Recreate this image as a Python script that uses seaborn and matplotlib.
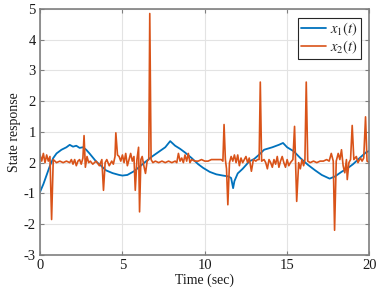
import numpy as np
import pandas as pd
import matplotlib
matplotlib.use("Agg")
import matplotlib.pyplot as plt
import seaborn as sns

# blue state x1(t)
t1 = [0.0, 0.2, 0.4, 0.6, 0.8, 1.0, 1.3, 1.6, 1.8, 2.0, 2.2, 2.4, 2.6, 2.8, 3.0, 3.2, 3.4,
      3.7, 4.0, 4.4, 4.8, 5.0, 5.3, 5.7, 6.0, 6.4, 6.8, 7.2, 7.6, 7.9, 8.2, 8.5, 8.8, 9.2,
      9.6, 9.9, 10.3, 10.7, 11.1, 11.45, 11.6, 11.72, 11.8, 12.0, 12.3, 12.7, 13.0, 13.3,
      13.6, 14.1, 14.5, 14.75, 15.0, 15.4, 15.8, 16.26, 16.7, 17.1, 17.58, 17.9, 18.3,
      18.7, 19.0, 19.4, 19.8, 20.0]
x1 = [-0.95, -0.7, -0.4, -0.1, 0.15, 0.3, 0.42, 0.5, 0.58, 0.52, 0.55, 0.48, 0.5, 0.42,
      0.3, 0.17, 0.04, -0.1, -0.25, -0.34, -0.4, -0.42, -0.4, -0.28, -0.15, 0.03, 0.2,
      0.35, 0.5, 0.7, 0.55, 0.45, 0.33, 0.15, -0.05, -0.17, -0.3, -0.38, -0.42, -0.45,
      -0.5, -0.83, -0.6, -0.35, -0.2, 0.04, 0.12, 0.26, 0.42, 0.5, 0.58, 0.64, 0.5, 0.37,
      0.15, -0.07, -0.25, -0.4, -0.52, -0.45, -0.3, -0.17, -0.05, 0.15, 0.34, 0.38]

# red state x2(t)
t2 = [0.0, 0.1, 0.2, 0.3, 0.4, 0.5, 0.6, 0.7, 0.8, 0.9, 1.0, 1.2, 1.4, 1.6, 1.8, 1.9, 2.0,
      2.1, 2.2, 2.3, 2.4, 2.5, 2.6, 2.67, 2.75, 2.85, 2.95, 3.05, 3.2, 3.4, 3.6, 3.75, 3.85,
      3.95, 4.05, 4.2, 4.35, 4.45, 4.55, 4.6, 4.7, 4.8, 4.9, 5.0, 5.1, 5.2, 5.3, 5.4, 5.5,
      5.6, 5.7, 5.78, 5.88, 5.98, 6.04, 6.12, 6.2, 6.3, 6.4, 6.5, 6.6, 6.66, 6.74, 6.85,
      7.0, 7.2, 7.4, 7.6, 7.8, 8.0, 8.2, 8.3, 8.4, 8.5, 8.6, 8.7, 8.8, 8.9, 9.0, 9.1, 9.2,
      9.4, 9.6, 9.8, 10.0, 10.2, 10.4, 10.6, 10.8, 11.0, 11.1, 11.17, 11.25, 11.32, 11.4,
      11.5, 11.6, 11.7, 11.8, 11.9, 12.0, 12.1, 12.2, 12.3, 12.4, 12.5, 12.6, 12.7, 12.83,
      12.95, 13.1, 13.2, 13.3, 13.37, 13.45, 13.6, 13.7, 13.8, 13.9, 14.0, 14.1, 14.2,
      14.3, 14.4, 14.5, 14.6, 14.7, 14.8, 14.9, 15.0, 15.1, 15.2, 15.35, 15.45, 15.58,
      15.7, 15.8, 15.9, 16.0, 16.08, 16.16, 16.25, 16.4, 16.6, 16.8, 17.0, 17.2, 17.4,
      17.55, 17.68, 17.8, 17.88, 17.98, 18.1, 18.2, 18.3, 18.4, 18.5, 18.6, 18.65, 18.75,
      18.85, 18.95, 19.05, 19.2, 19.3, 19.45, 19.55, 19.65, 19.76, 19.85, 20.0]
x2 = [0.25, 0.05, 0.3, 0.0, 0.25, 0.05, 0.2, -1.85, 0.1, 0.05, 0.0, 0.05, 0.0, 0.05, 0.0,
      0.1, -0.05, 0.1, -0.1, 0.05, 0.1, -0.05, 0.15, 0.88, -0.15, 0.2, 0.0, 0.05, -0.05,
      0.05, -0.1, 0.1, -0.9, 0.0, 0.1, -0.1, 0.05, -0.05, 0.2, 0.97, 0.25, 0.2, 0.05, 0.25,
      0.0, 0.3, -0.1, 0.1, 0.3, 0.05, 0.2, -0.9, 0.1, 0.5, -1.6, 0.1, 0.2, -0.1, -0.35,
      0.05, 0.1, 4.85, 0.1, 0.0, 0.05, 0.0, 0.05, 0.0, 0.05, 0.0, 0.05, 0.0, 0.3, 0.05,
      0.15, 0.0, 0.25, 0.05, 0.3, 0.0, 0.1, 0.05, 0.05, 0.1, 0.05, 0.05, 0.1, 0.1, 0.1,
      0.1, 0.05, 1.24, 0.1, -0.2, -1.37, 0.0, 0.2, 0.05, 0.25, 0.0, 0.25, -0.1, 0.15, 0.0,
      0.1, 0.2, 0.0, 0.15, -0.28, 0.1, 0.05, 0.1, 0.1, 2.62, 0.05, 0.1, 0.0, -0.2, 0.1,
      0.0, -0.15, 0.1, -0.05, 0.2, -0.15, 0.05, 0.2, 0.0, -0.15, 0.1, -0.1, 0.0, 0.1, 1.18,
      -1.26, 0.0, -0.2, 0.1, -0.1, 0.1, 2.62, 0.05, 0.0, 0.05, 0.0, 0.05, 0.05, 0.1, 0.05,
      0.3, 0.05, -2.2, 0.05, 0.3, 0.1, 0.42, -0.1, -0.33, 0.1, -0.55, 0.0, 0.1, 1.21, 0.1,
      0.2, 0.0, 0.15, 0.05, 0.15, 1.49, 0.05, 0.0]

yticks = [-3, -2, -1, 0, 1, 2, 3, 4, 5]
ytick_labels = ['-3', '-2', '-1', '2', '1', '2', '3', '4', '5']
xticks = [0, 5, 10, 15, 20]

sns.set_style("whitegrid")
plt.rcParams['font.family'] = ['Liberation Serif', 'DejaVu Serif']
plt.rcParams['mathtext.fontset'] = 'stix'

fig = plt.figure(figsize=(3.78, 2.88), dpi=100)
ax = fig.add_axes([0.106, 0.115, 0.8715, 0.854])

sns.lineplot(x=t1, y=x1, ax=ax, color='#0072BD', lw=1.3, label=r'$x_1(t)$')
sns.lineplot(x=t2, y=x2, ax=ax, color='#D95319', lw=1.2, label=r'$x_2(t)$')

ax.set_xlim(0, 20)
ax.set_ylim(-3, 5)
ax.set_xticks(xticks)
ax.set_xticklabels([str(v) for v in xticks])
ax.set_yticks(yticks)
ax.set_yticklabels(ytick_labels)
ax.grid(True, color='#e3e3e3', lw=0.8)
for s in ax.spines.values():
    s.set_color('#7f7f7f')
    s.set_linewidth(1.2)
ax.tick_params(direction='in', length=3, width=0.8, color='#7f7f7f',
               labelsize=10.5, labelcolor='#1a1a1a', top=True, right=True,
               bottom=True, left=True, pad=3)
ax.set_xlabel('Time (sec)', fontsize=10, color='#1a1a1a', labelpad=1)
ax.set_ylabel('State response', fontsize=10, color='#1a1a1a', labelpad=2)

leg = ax.legend(loc='upper right', fontsize=10.5, frameon=True, fancybox=False,
                handlelength=1.7, handletextpad=0.3, borderpad=0.2, labelspacing=0.05,
                borderaxespad=0.6)
leg.get_frame().set_edgecolor('#262626')
leg.get_frame().set_linewidth(0.8)
leg.get_frame().set_alpha(1)

fig.savefig('out.png', dpi=100)
